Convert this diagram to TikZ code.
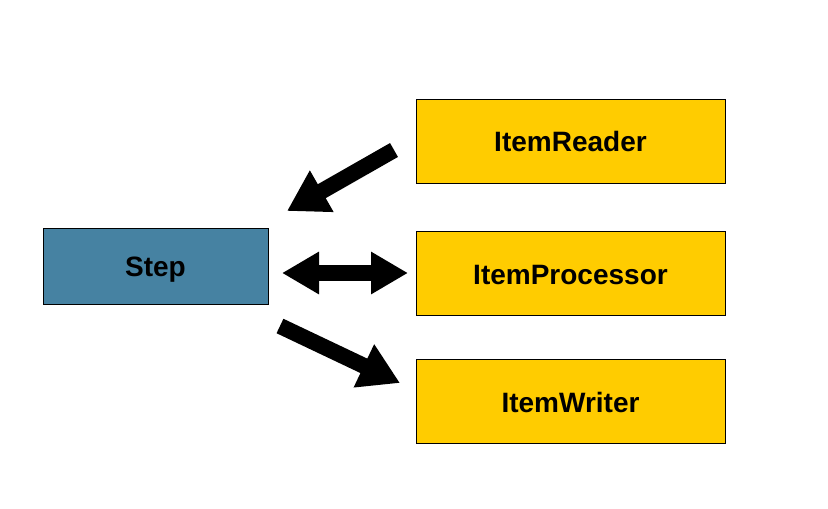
\documentclass[tikz,border=0pt]{standalone}
\usepackage{fontspec}
\setmainfont{Liberation Sans}
\usetikzlibrary{arrows.meta}
\definecolor{stepblue}{HTML}{4682A2}
\definecolor{itemyellow}{HTML}{FFCC00}
\tikzset{
  box/.style={draw=black, line width=1pt, minimum width=309pt, minimum height=84pt, inner sep=0pt, text height=21pt, text depth=0pt, font=\fontsize{28}{32}\selectfont\bfseries},
  stepbox/.style={box, fill=stepblue, minimum width=225pt, minimum height=76pt},
  itembox/.style={box, fill=itemyellow},
  fat/.style={line width=16pt, black, line cap=butt},
  bigtip/.style={-{Triangle[length=40pt,width=45pt]}},
  bigtips/.style={{Triangle[length=37pt,width=40pt]}-{Triangle[length=37pt,width=40pt]}}
}
\begin{document}
\begin{tikzpicture}[x=1pt,y=-1pt]
\useasboundingbox (0,0) rectangle (828,509);
\node[stepbox] (step) at (155.5,266) {Step};
\node[itembox] (reader) at (570.5,141) {ItemReader};
\node[itembox] (proc) at (570.5,273.5) {ItemProcessor};
\node[itembox] (writer) at (570.5,401.5) {ItemWriter};
\coordinate (a1s) at (394,150);
\coordinate (a1e) at (287,211);
\coordinate (a2s) at (282,273);
\coordinate (a2e) at (408,273);
\coordinate (a3s) at (280,326);
\coordinate (a3e) at (400,383);
\draw[fat, bigtip] (a1s) -- (a1e);
\draw[fat, bigtips] (a2s) -- (a2e);
\draw[fat, bigtip] (a3s) -- (a3e);
\end{tikzpicture}
\end{document}
